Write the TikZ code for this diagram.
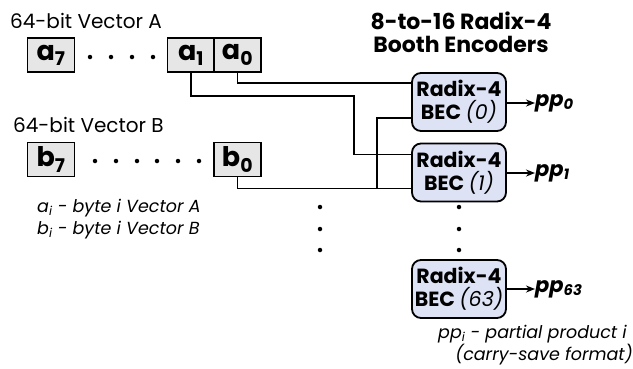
\documentclass[tikz,border=0pt]{standalone}
\usepackage{fontspec}
\setmainfont{Poppins}
\usetikzlibrary{calc,arrows.meta}
\definecolor{boxgray}{HTML}{E6E6E6}
\definecolor{becblue}{HTML}{DDE3F5}
\newcommand{\mysub}[1]{\textsubscript{#1}}
\begin{document}
\begin{tikzpicture}[x=1pt,y=-1pt,
  bytebox/.style={draw, line width=1.6pt, fill=boxgray, minimum width=47pt, minimum height=34pt, inner sep=0pt, font=\fontsize{27}{28}\selectfont\bfseries},
  bec/.style={draw, line width=1.8pt, fill=becblue, rounded corners=9pt, minimum width=94pt, minimum height=58pt, inner sep=0pt, align=center, font=\fontsize{20.5}{23}\selectfont\bfseries},
  wire/.style={line width=1.6pt},
  outarrow/.style={line width=1.6pt, -{Stealth[length=9pt,width=7pt]}},
  heading/.style={font=\fontsize{20}{22}\selectfont, anchor=west, inner sep=0pt},
  title/.style={font=\fontsize{22}{23}\selectfont\bfseries, align=center, inner sep=0pt},
  legend/.style={font=\fontsize{17.5}{18}\selectfont\itshape, inner sep=0pt},
  ppl/.style={font=\fontsize{21}{22}\selectfont\bfseries\itshape, anchor=west, inner sep=0pt},
  dotmark/.style={circle, fill=black, minimum size=4.5pt, inner sep=0pt}
]
\useasboundingbox (0,0) rectangle (633,368);
% headings
\node[heading] (hA) at (10,21) {64-bit Vector A};
\node[heading] (hB) at (13,125) {64-bit Vector B};
\node[title] (title) at (461,32) {8-to-16 Radix-4\\Booth Encoders};
% vector A
\node[bytebox] (a7) at (51,55) {a\mysub{7}};
\node[bytebox] (a1) at (191,55) {a\mysub{1}};
\node[bytebox] (a0) at (237.5,55) {a\mysub{0}};
\foreach \x [count=\i] in {90,111,132,153} \node[dotmark] (da\i) at (\x,57) {};
% vector B
\node[bytebox] (b7) at (51,159.5) {b\mysub{7}};
\node[bytebox] (b0) at (237.5,159.5) {b\mysub{0}};
\foreach \x [count=\i] in {95,116,137,157,178,199} \node[dotmark] (db\i) at (\x,161) {};
% encoders
\node[bec] (bec0) at (459,102) {Radix-4\\BEC {\mdseries\itshape (0)}};
\node[bec] (bec1) at (459,172.5) {Radix-4\\BEC {\mdseries\itshape (1)}};
\node[bec] (bec63) at (459,289) {Radix-4\\BEC {\mdseries\itshape (63)}};
% outputs
\node[ppl] (pp0) at (535,103) {pp\textsubscript{0}};
\node[ppl] (pp1) at (535,173) {pp\textsubscript{1}};
\node[ppl] (pp63) at (535,289) {pp\textsubscript{63}};
\draw[outarrow] (bec0.east |- pp0) -- (pp0.west);
\draw[outarrow] (bec1.east |- pp1) -- (pp1.west);
\draw[outarrow] (bec63.east |- pp63) -- (pp63.west);
% wires
\coordinate (jb) at (377,189);
\draw[wire] (a0.south) |- ($(bec0.north west)+(0,11)$);
\draw[wire] (a1.south) |- (354,96) |- ($(bec1.north west)+(0,12)$);
\draw[wire] (b0.south) |- ($(bec1.north west)+(0,46)$);
\draw[wire] (jb) |- ($(bec0.north west)+(0,46)$);
% vertical dots
\foreach \y [count=\i] in {207,229,250} {
  \node[dotmark] (dv\i) at (320,\y) {};
  \node[dotmark] (de\i) at (459,\y) {};
}
% legends
\node[legend, anchor=west] (lgA) at (37,208) {a\textsubscript{i} - byte i Vector A};
\node[legend, anchor=west] (lgB) at (37,230) {b\textsubscript{i} - byte i Vector B};
\node[legend, anchor=east] (lgP) at (627,334) {pp\textsubscript{i} - partial product i};
\node[legend, anchor=east] (lgC) at (633,355) {(carry-save format)};
\end{tikzpicture}
\end{document}
